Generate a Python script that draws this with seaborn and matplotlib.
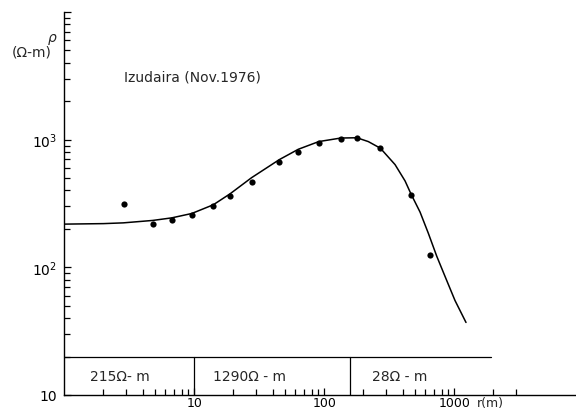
import matplotlib

matplotlib.use("Agg")
import matplotlib.pyplot as plt
import matplotlib.ticker as ticker
import pandas as pd
import seaborn as sns

sns.set_style("white")
plt.rcParams["font.family"] = ["DejaVu Sans"]
plt.rcParams["xtick.direction"] = "in"
plt.rcParams["ytick.direction"] = "in"

# apparent resistivity curve (model fit)
curve_r = [1.0, 2.0, 2.84, 4.79, 6.70, 9.55, 14.0, 18.8, 27.6, 45.1, 63.1, 90.6,
           134, 178, 218, 270, 350, 418, 464, 545, 631, 733, 848, 1012, 1230]
curve_rho = [218, 220, 223, 233, 244, 264, 309, 376, 504, 698, 841, 966,
             1030, 1035, 966, 857, 638, 475, 376, 271, 185, 122, 85, 55, 37]

# measured points
obs_r = [2.88, 4.79, 6.70, 9.55, 14.0, 18.8, 27.6, 45.1, 63.1, 90.6,
         135, 178, 270, 467, 647]
obs_rho = [312, 219, 233, 259, 305, 365, 467, 665, 804, 937,
           1018, 1023, 853, 369, 124]

# layered model shown in the strip at the bottom
layer_bounds = [1, 10, 158, 1900]
layer_labels = ["215\u03a9- m", "1290\u03a9 - m", "28\u03a9 - m"]
layer_label_r = [1.58, 14.0, 234]

curve = pd.DataFrame({"r": curve_r, "rho": curve_rho})
obs = pd.DataFrame({"r": obs_r, "rho": obs_rho})

fig = plt.figure(figsize=(5.76, 4.10), dpi=100)
ax = fig.add_axes([64.3 / 576, 14 / 410, (576 - 64.3) / 576, 383 / 410])
ax.set(xscale="log", yscale="log")

sns.lineplot(data=curve, x="r", y="rho", ax=ax, color="black", linewidth=1.1,
             estimator=None, sort=False)
sns.scatterplot(data=obs, x="r", y="rho", ax=ax, color="black", s=20,
                edgecolor="black", linewidth=0, zorder=3)

ax.set_xlim(1, 8630)
ax.set_ylim(10, 1e4)

# layer strip
ax.plot([layer_bounds[0], layer_bounds[-1]], [20, 20], color="black", lw=0.9)
for b in layer_bounds[1:-1]:
    ax.plot([b, b], [10, 20], color="black", lw=0.9)
for lab, xr in zip(layer_labels, layer_label_r):
    ax.text(xr, 14.1, lab, fontsize=10, va="center", ha="left")

ax.text(2.9, 3150, "Izudaira (Nov.1976)", fontsize=10, va="center", ha="left")

# axes styling
for side in ["top", "right"]:
    ax.spines[side].set_visible(False)
for side in ["left", "bottom"]:
    ax.spines[side].set_color("black")
    ax.spines[side].set_linewidth(1.0)

ax.yaxis.set_major_locator(ticker.FixedLocator([10, 100, 1000, 10000]))
ax.yaxis.set_major_formatter(ticker.FixedFormatter(["10", "$10^2$", "$10^3$", ""]))
ax.yaxis.set_minor_locator(ticker.LogLocator(base=10, subs=range(2, 10), numticks=20))
ax.yaxis.set_minor_formatter(ticker.NullFormatter())

ax.xaxis.set_major_locator(ticker.FixedLocator([10, 100, 1000]))
ax.xaxis.set_major_formatter(ticker.FixedFormatter(["10", "100", "1000"]))
x_minor = [m * d for d in [1, 10, 100] for m in range(2, 10)] + [2000, 3000]
ax.xaxis.set_minor_locator(ticker.FixedLocator(x_minor))
ax.xaxis.set_minor_formatter(ticker.NullFormatter())

ax.tick_params(which="both", direction="in", color="black", width=0.9,
               labelsize=10, labelcolor="black", bottom=True, left=True,
               top=False, right=False)
ax.tick_params(which="major", length=5)
ax.tick_params(which="minor", length=4)
ax.tick_params(axis="x", pad=1, labelsize=9)
ax.tick_params(axis="y", pad=5)

ax.set_xlabel("")
ax.set_ylabel("")
ax.annotate("r(m)", xy=(1000, 0), xycoords=("data", "axes fraction"),
            xytext=(16, -1), textcoords="offset points", va="top", ha="left",
            fontsize=9)

fig.text(52 / 576, 1 - 38 / 410, "\u03c1", fontsize=10, ha="center", va="center",
         style="italic")
fig.text(32 / 576, 1 - 52 / 410, "(\u03a9-m)", fontsize=10, ha="center", va="center")

fig.savefig("out.png", dpi=100)
